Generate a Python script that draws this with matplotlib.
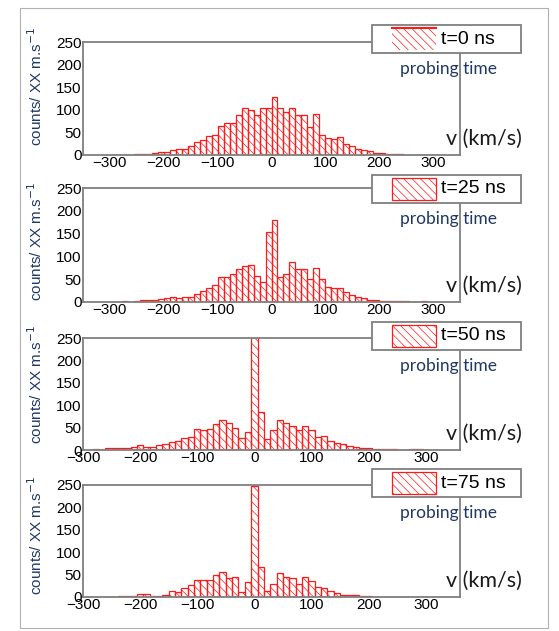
import numpy as np
import matplotlib
matplotlib.use("Agg")
import matplotlib.pyplot as plt
from matplotlib.patches import Rectangle
from matplotlib.lines import Line2D

W, H = 559, 631

# counts per velocity bin, read left -> right
# t=0 and t=25: 54 bins with an edge at v=0
counts_t0 = [1, 1, 1, 1, 2, 2, 3, 4, 6, 6, 10, 13, 13, 20, 29, 34, 43, 44, 64, 71, 71, 88, 105, 99, 88, 103, 103,
             128, 104, 95, 104, 88, 88, 62, 90, 45, 38, 36, 39, 25, 20, 14, 10, 8, 5, 4, 3, 2, 2, 1, 1, 1, 1, 1]
counts_t25 = [0, 0, 3, 0, 3, 4, 4, 5, 6, 8, 10, 8, 10, 10, 17, 24, 30, 37, 55, 55, 61, 73, 80, 82, 57, 43, 154,
              180, 54, 61, 88, 72, 72, 50, 74, 50, 32, 31, 31, 21, 16, 12, 8, 5, 4, 3, 3, 3, 3, 2, 0, 0, 3, 0]
# t=50 and t=75: 55 bins centred on v=0
counts_t50 = [0, 0, 2, 1, 5, 4, 4, 4, 7, 12, 7, 7, 11, 13, 18, 20, 27, 30, 47, 44, 47, 58, 67, 60, 50, 27, 40,
              255,
              85, 24, 45, 67, 60, 54, 44, 53, 45, 29, 31, 21, 15, 13, 9, 6, 4, 4, 3, 3, 2, 3, 0, 0, 3, 2, 0]
counts_t75 = [0, 0, 1, 1, 1, 1, 2, 2, 3, 6, 7, 3, 3, 5, 13, 12, 21, 26, 37, 39, 37, 49, 56, 43, 44, 11, 34,
              248,
              67, 13, 30, 54, 45, 43, 30, 45, 35, 22, 20, 13, 10, 5, 5, 4, 2, 2, 1, 1, 1, 1, 1, 0, 1, 1, 0]

labels = ["t=0 ns", "t=25 ns", "t=50 ns", "t=75 ns"]
all_counts = [counts_t0, counts_t25, counts_t50, counts_t75]
centred = [False, False, True, True]
xlims = [(-350, 350), (-350, 350), (-300, 360), (-300, 360)]
xticks = [-300, -200, -100, 0, 100, 200, 300]
yticks = [0, 50, 100, 150, 200, 250]

bin_w = 100 / 9
red = "#ff1a1a"
gray = "#7f7f7f"
navy = "#1f3864"

plt.rcParams["hatch.linewidth"] = 0.5
plt.rcParams["font.family"] = ["Liberation Sans", "DejaVu Sans"]

fig = plt.figure(figsize=(W / 100, H / 100), dpi=100)


def fx(x):
    return x / W


def fy(y):
    return 1 - y / H


# outer frame
fig.add_artist(Rectangle((fx(20), fy(628)), fx(548) - fx(20), fy(8) - fy(628),
                         transform=fig.transFigure, fill=False, edgecolor="#b0b0b0", lw=0.8))

tops = [42, 188, 338, 485]
bottoms = [155, 302, 450, 597]
box_tops = [25, 175, 322, 469]
ylab_y = [0.61, 0.53, 0.59, 0.55]
left, right = 83, 460

for i, counts in enumerate(all_counts):
    ax = fig.add_axes([fx(left), fy(bottoms[i]), fx(right) - fx(left), fy(tops[i]) - fy(bottoms[i])])
    n = len(counts)
    if centred[i]:
        centres = (np.arange(n) - n // 2) * bin_w
    else:
        centres = (np.arange(n) - n // 2 + 0.5) * bin_w
    ax.bar(centres, counts, width=bin_w, fill=False, hatch="\\\\\\\\",
           edgecolor=red, linewidth=0.9)
    ax.set_xlim(*xlims[i])
    ax.set_ylim(0, 250)
    ax.set_xticks(xticks)
    ax.set_yticks(yticks)
    ax.tick_params(length=0, labelsize=11, pad=1)
    for s in ax.spines.values():
        s.set_color(gray)
        s.set_linewidth(1.3)
    ax.set_ylabel("counts/ XX m.s$^{-1}$", fontsize=11, color=navy, labelpad=2)
    ax.yaxis.set_label_coords(-0.102, ylab_y[i])

    # legend-like box
    bt = box_tops[i]
    fig.add_artist(Rectangle((fx(372), fy(bt + 28)), fx(521) - fx(372), fy(bt) - fy(bt + 28),
                             transform=fig.transFigure, facecolor="white", edgecolor=gray, lw=1.3,
                             zorder=5))
    if i == 0:
        fig.add_artist(Rectangle((fx(392), fy(bt + 25)), fx(436) - fx(392), fy(bt + 3) - fy(bt + 25),
                                 transform=fig.transFigure, fill=False, hatch="\\\\\\\\",
                                 edgecolor=red, lw=0, zorder=6))
        fig.add_artist(Line2D([fx(392), fx(436)], [fy(bt + 3), fy(bt + 3)],
                              transform=fig.transFigure, color=red, lw=1.5, zorder=6))
    else:
        fig.add_artist(Rectangle((fx(392), fy(bt + 25)), fx(436) - fx(392), fy(bt + 3) - fy(bt + 25),
                                 transform=fig.transFigure, fill=False, hatch="\\\\\\\\",
                                 edgecolor=red, lw=0.9, zorder=6))
    fig.text(fx(441), fy(bt + 14), labels[i], fontsize=14, va="center", ha="left", zorder=7)
    fig.text(fx(448), fy(bt + 44), "probing time", fontsize=12.5, color=navy,
             family=["Lato", "DejaVu Sans"], ha="center", va="center", zorder=7)
    fig.text(fx(484), fy(bottoms[i] - 16), "v (km/s)", fontsize=15.5, color="#1a1a1a",
             family=["Lato", "DejaVu Sans"], ha="center", va="center", zorder=7)

fig.savefig("out.png", dpi=100)
